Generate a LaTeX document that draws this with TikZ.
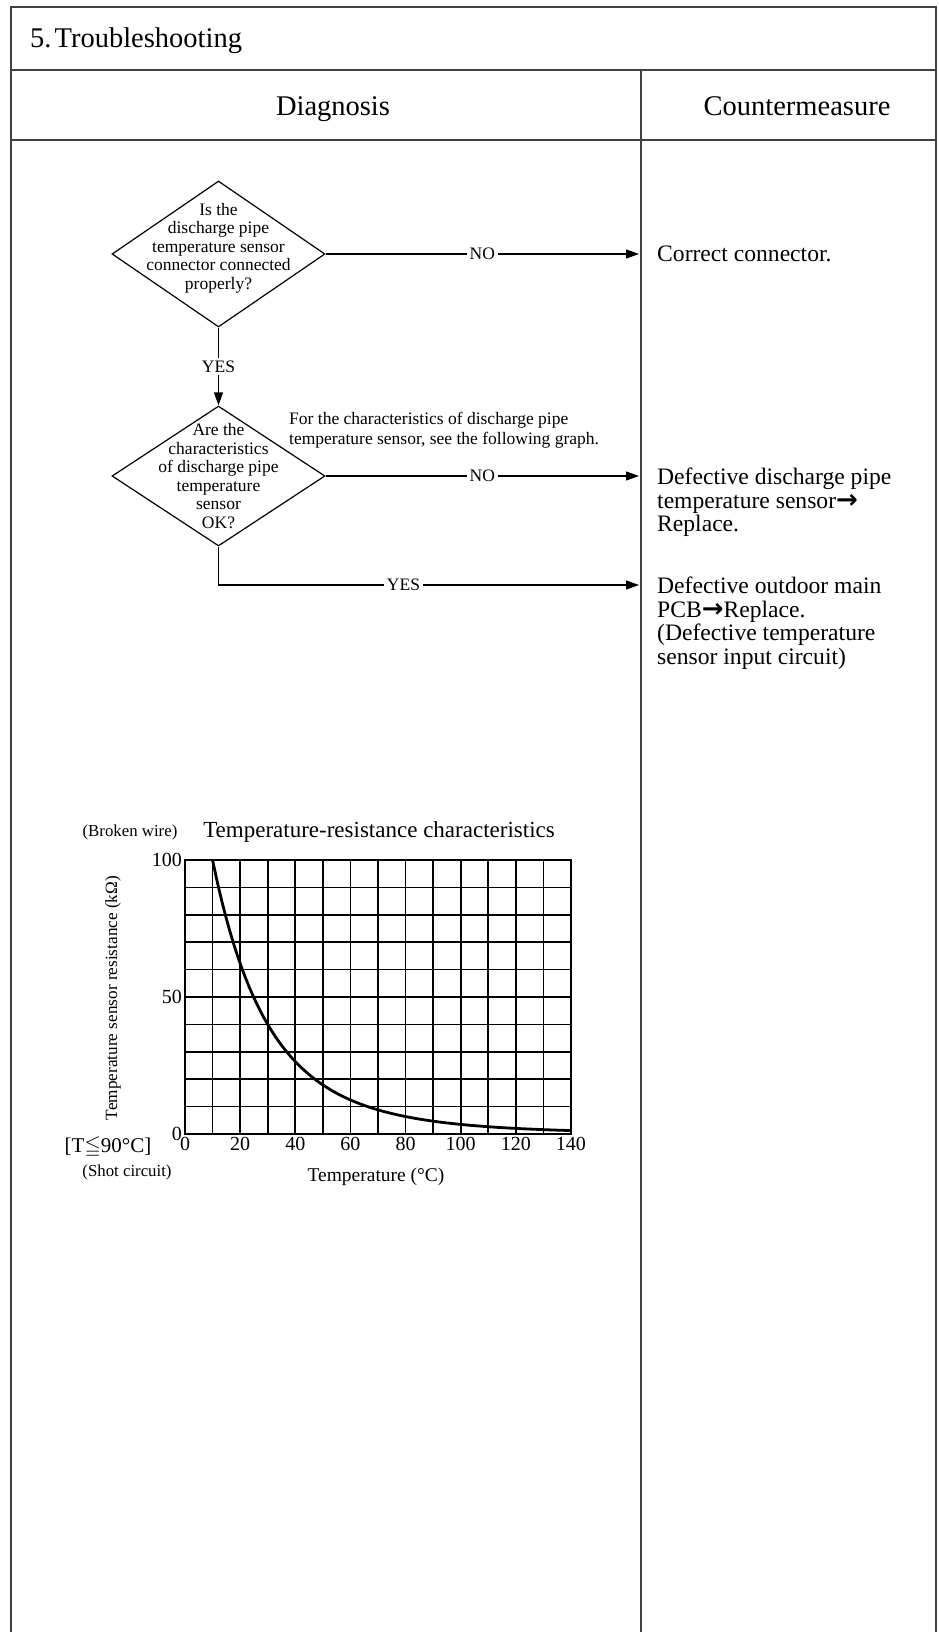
\documentclass[tikz,border=0pt]{standalone}
\usepackage{fontspec}
\setmainfont{Liberation Serif}
\newfontfamily\arrowfont{DejaVu Sans}
\usepackage{amssymb}
\usepackage{tikz}
\usetikzlibrary{arrows.meta, positioning, calc, shapes.geometric}

\newcommand{\fsz}[2]{\fontsize{#1}{#2}\selectfont}
\newcommand{\thenarrow}{{\arrowfont\bfseries\fsz{26}{26}→}}

\begin{document}
\begin{tikzpicture}[x=1pt, y=-1pt,
    rule/.style={line width=1.8pt, black!75},
    flow/.style={line width=1.2pt},
    arr/.style={flow, -{Triangle[length=13pt, width=9pt]}},
    decision/.style={draw, diamond, line width=1.2pt, minimum width=213pt, inner sep=0pt},
    qtext/.style={align=center, font=\fsz{17.5}{18.5}, inner sep=0pt},
    lbl/.style={fill=white, inner sep=3pt, font=\fsz{17.5}{18.5}},
    fix/.style={anchor=north west, align=left, inner sep=0pt, font=\fsz{23.6}{23.5}},
    head/.style={inner sep=0pt, font=\fsz{28.5}{30}},
    gridline/.style={line width=1.6pt},
    small/.style={font=\fsz{16.8}{18}},
    tick/.style={inner sep=3pt, font=\fsz{20}{22}}
  ]
  \useasboundingbox (0,0) rectangle (938,1632);

  % table frame
  \draw[rule] (11,1632) -- (11,7) -- (936,7) -- (936,1632);
  \draw[rule] (11,70) -- (936,70);
  \draw[rule] (11,140) -- (936,140);
  \draw[rule] (641,70) -- (641,1632);

  \node[head, anchor=base west] (title) at (30,48) {5.\kern3pt Troubleshooting};
  \node[head, anchor=base] (diag) at (333,116) {Diagnosis};
  \node[head, anchor=base] (cm) at (797,116) {Countermeasure};

  % flow chart
  \node[decision, minimum height=146pt] (q1) at (218.5,254) {};
  \node[qtext] (q1txt) at ([yshift=6pt]q1.center) {Is the\\discharge pipe\\temperature sensor\\connector connected\\properly?};
  \node[decision, minimum height=140pt] (q2) at (218.5,476) {};
  \node[qtext] (q2txt) at (q2.center) {Are the\\characteristics\\of discharge pipe\\temperature\\sensor\\OK?};

  \node[anchor=west, align=left, inner sep=0pt, font=\fsz{17.5}{19.5}] (note) at (289,430)
    {For the characteristics of discharge pipe\\temperature sensor, see the following graph.};

  \coordinate (e1) at (639,254);
  \coordinate (e2) at (639,476);
  \coordinate (e3) at (639,585);

  \draw[arr] (q1.east) -- node[lbl] {NO} (e1);
  \draw[arr] (q1.south) -- node[lbl] {YES} (q2.north);
  \draw[arr] (q2.east) -- node[lbl] {NO} (e2);
  \draw[arr] (q2.south) |- node[lbl, pos=0.72] {YES} (e3);

  % countermeasures
  \node[fix] (fix1) at (657,246) {Correct connector.};
  \node[fix] (fix2) at (657,468) {Defective discharge pipe\\temperature sensor\thenarrow\\Replace.};
  \node[fix] (fix3) at (657,577) {Defective outdoor main\\PCB\thenarrow Replace.\\(Defective temperature\\sensor input circuit)};

  % graph
  \begin{scope}[shift={(185,1134)}, x=2.757pt, y=2.74pt]
    \foreach \t in {10,20,...,130} \draw[gridline] (\t,0) -- (\t,100);
    \foreach \r in {10,20,...,90} \draw[gridline] (0,\r) -- (140,\r);
    \draw[line width=2.6pt] (0,0) rectangle (140,100);
    \draw[line width=2.8pt, domain=10:140, samples=80, smooth]
      plot (\x, {100*exp(13.883*(10-\x)/(\x+273))});
    \foreach \t in {0,20,...,140} \node[tick, anchor=north] (tx\t) at (\t,0) {\t};
    \node[tick, anchor=east] (r0) at (0,0) {0};
    \node[tick, anchor=east] (r50) at (0,50) {50};
    \node[tick, anchor=east] (r100) at (0,100) {100};
  \end{scope}

  \node[font=\fsz{23}{25}] (gtitle) at (379,832) {Temperature-resistance characteristics};
  \node[small] (broken) at (130,832) {(Broken wire)};
  \node[font=\fsz{21}{22}] (tcond) at (108,1147) {[T$\leqq$90°C]};
  \node[small] (short) at (127,1172) {(Shot circuit)};
  \node[font=\fsz{19.5}{21}] (xlab) at (376,1177) {Temperature (°C)};
  \node[font=\fsz{17.2}{19}, rotate=90] (ylab) at (113,998) {Temperature sensor resistance (kΩ)};
\end{tikzpicture}
\end{document}
